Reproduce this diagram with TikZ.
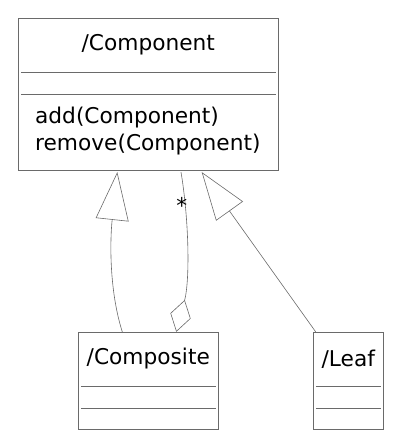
\documentclass[tikz,border=0pt]{standalone}
\usepackage{fontspec}
\setmainfont{DejaVu Sans}
\usetikzlibrary{arrows.meta,calc,positioning}
\definecolor{umlgray}{HTML}{6A6A6A}
\tikzset{
	classbox/.style={draw=umlgray,line width=0.7pt,anchor=center,inner sep=0pt},
	sepline/.style={draw=umlgray,line width=0.6pt},
	conn/.style={draw=umlgray,line width=0.6pt},
	inherit/.style={conn,-{Triangle[open,length=48pt,width=33pt]}},
	aggreg/.style={conn,-{Diamond[open,length=33pt,width=21pt]}},
}
\newcommand{\umlfont}{\fontsize{21.7}{27}\selectfont}
\newcommand{\classlines}[1]{%
	\draw[sepline] ($(#1.north west)+(3,54)$) -- ($(#1.north east)+(-3,54)$);
	\draw[sepline] ($(#1.north west)+(3,76)$) -- ($(#1.north east)+(-3,76)$);
}
\begin{document}
\begin{tikzpicture}[x=1pt,y=-1pt,font=\umlfont]
				\useasboundingbox (0,0) rectangle (400,445);
				\node (Component) at (148.3,94.3) [classbox,minimum width=260pt,minimum height=152pt] {};
				\node (Composite) at (148.3,380.7) [classbox,minimum width=140pt,minimum height=97pt] {};
				\node (Leaf) at (348.3,380.7) [classbox,minimum width=70pt,minimum height=97pt] {};
				
				\node (ComponentName) at ($(Component.north)+(0,27)$) {/Component};
				\node (CompositeName) at ($(Composite.north)+(0,27)$) {/Composite};
				\node (LeafName) at ($(Leaf.north)+(0,27)$) {/Leaf};
				\node (ComponentOps) at ($(Component.north west)+(17,113)$) [anchor=west,align=left,inner sep=0pt] {add(Component)\\remove(Component)};
				
				\classlines{Component}
				\classlines{Composite}
				\classlines{Leaf}
				
				\draw[inherit] ($(Composite.north)+(-26,0)$) .. controls (109,290) and (110,240) .. ($(Component.south)+(-31,1.4)$);
				\draw[aggreg] ($(Component.south)+(32.7,1.4)$) .. controls (189,220) and (190,280) .. ($(Composite.north)+(28,0)$);
				\draw[inherit] ($(Leaf.north)+(-32.6,0)$) -- ($(Component.south)+(53.4,1.4)$);
				
				\node (many) at (181.7,213.6) [anchor=base,inner sep=0pt] {*};
				\end{tikzpicture}
\end{document}
